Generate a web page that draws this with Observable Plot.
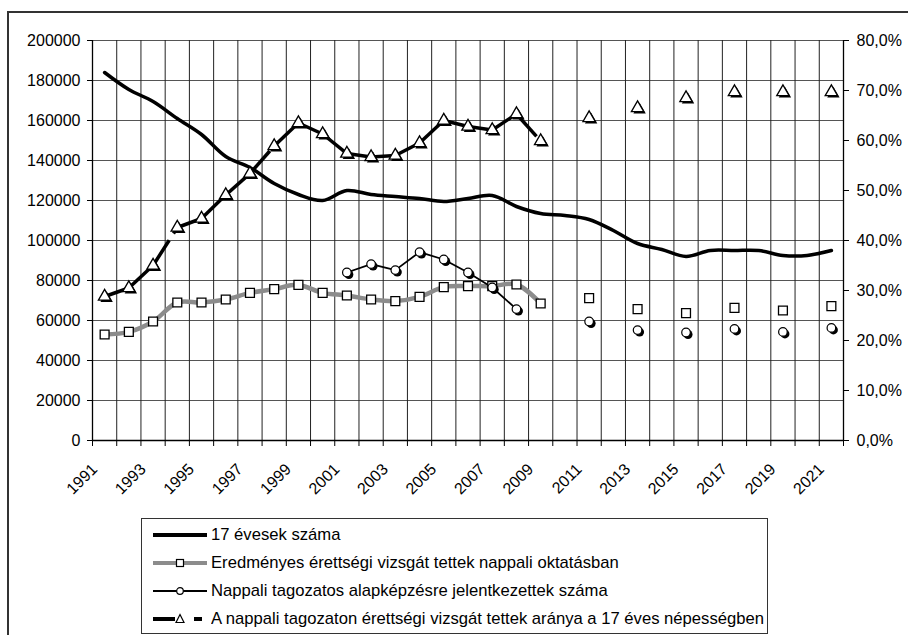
<!DOCTYPE html>
<html>
<head>
<meta charset="utf-8">
<script src="https://cdn.jsdelivr.net/npm/d3@7"></script>
<script src="https://cdn.jsdelivr.net/npm/@observablehq/plot@0.6"></script>
<style>
  body { margin: 0; background: #fff; }
  #wrap { position: relative; width: 908px; height: 635px; overflow: hidden; background: #fff;
          font-family: "Liberation Sans", Arial, sans-serif; }
  #frame { position: absolute; left: 7px; top: 11px; width: 1000px; height: 1000px;
           border-left: 2px solid #333; border-top: 2px solid #333; }
  #chart { position: absolute; left: 0; top: 0; }
  #legend { position: absolute; left: 141px; top: 518px; width: 625px; height: 114px;
            border: 1px solid #333; background: #fff; }
  .row { position: absolute; left: 0; height: 28px; display: flex; align-items: center; white-space: nowrap; }
  .row svg { margin-left: 11px; flex: none; }
  .row span { display: inline-block; margin-left: 2px; font-family: "Liberation Sans Narrow", "Arial Narrow", "Liberation Sans", Arial, sans-serif;
              font-size: 17px; color: #000; transform-origin: left center; }
</style>
</head>
<body>
<div id="wrap">
  <div id="frame"></div>
  <div id="chart"></div>
  <div id="legend"></div>
</div>
<script>
// ---- data ----
const years = [1991,1992,1993,1994,1995,1996,1997,1998,1999,2000,2001,2002,2003,2004,2005,2006,2007,2008,2009,2010,2011,2012,2013,2014,2015,2016,2017,2018,2019,2020,2021];
const yearLabels = [1991,1993,1995,1997,1999,2001,2003,2005,2007,2009,2011,2013,2015,2017,2019,2021];

// 17 évesek száma
const pop17 = [184000,175500,169500,161000,153000,142000,136500,128500,123000,120000,125000,123000,122000,121000,119500,121000,122500,117000,113500,112500,110500,105000,98500,95500,92000,95000,95000,95000,92500,92500,95000];
// Eredményes érettségi vizsgát tettek nappali oktatásban
const eredmenyes = [53000,54300,59500,69000,69000,70500,73800,75700,77800,73800,72500,70500,69700,71800,76700,77200,77200,78000,68500,null,71200,null,65700,null,63700,null,66300,null,65000,null,67200];
// Nappali tagozatos alapképzésre jelentkezettek száma
const jelentkezett = [null,null,null,null,null,null,null,null,null,null,84000,88200,85200,94200,90500,84000,76500,65700,null,null,59500,null,55200,null,54000,null,55800,null,54300,null,56300];
// A nappali tagozaton érettségi vizsgát tettek aránya a 17 éves népességben (%)
const arany = [28.8,30.5,35.0,42.6,44.4,49.1,53.4,58.9,63.5,61.3,57.4,56.7,57.0,59.5,64.0,62.8,62.1,65.3,59.9,null,64.5,null,66.5,null,68.5,null,69.7,null,69.7,null,69.7];

const leftTicks = [0,20000,40000,60000,80000,100000,120000,140000,160000,180000,200000];
const rightTicks = [0,10,20,30,40,50,60,70,80];
const seriesNames = [
  "17 évesek száma",
  "Eredményes érettségi vizsgát tettek nappali oktatásban",
  "Nappali tagozatos alapképzésre jelentkezettek száma",
  "A nappali tagozaton érettségi vizsgát tettek aránya a 17 éves népességben"
];

// ---- derived tables ----
const PCT = 2500; // left-axis units per percent (80% <-> 200000)
const table = years.map((year, i) => ({
  year, pop: pop17[i], ered: eredmenyes[i], jel: jelentkezett[i],
  arany: arany[i] == null ? null : arany[i] * PCT
}));
const boundaries = years.map(y => y - 0.5).concat([years[years.length - 1] + 0.5]);
const xDomain = [boundaries[0], boundaries[boundaries.length - 1]];
const links = [];
for (let i = 0; i + 1 < table.length; i++) {
  if (table[i].arany != null && table[i + 1].arany != null)
    links.push({x1: table[i].year, y1: table[i].arany, x2: table[i + 1].year, y2: table[i + 1].arany});
}
const eredLine = table.filter(d => d.ered != null && d.year <= 2009);
const jelLine = table.filter(d => d.jel != null && d.year <= 2008);

const chart = Plot.plot({
  width: 908,
  height: 515,
  marginLeft: 92,
  marginRight: 65,
  marginTop: 40,
  marginBottom: 75,
  x: {domain: xDomain},
  y: {domain: [0, 200000]},
  style: {fontFamily: '"Liberation Sans", Arial, sans-serif', fontSize: "16px", background: "transparent", color: "#000", overflow: "visible"},
  marks: [
    Plot.ruleY(leftTicks.slice(1), {stroke: "#555", strokeWidth: 1}),
    Plot.ruleX(boundaries, {stroke: "#222", strokeWidth: 1}),
    Plot.ruleX(xDomain, {stroke: "#000", strokeWidth: 1.3}),
    Plot.ruleY([0], {stroke: "#000", strokeWidth: 1.3}),
    Plot.axisY({anchor: "left", ticks: leftTicks, tickSize: 5, tickPadding: 7, tickFormat: d => String(d), label: null}),
    Plot.axisY({anchor: "right", ticks: rightTicks.map(p => p * PCT), tickSize: 5, tickPadding: 8,
      tickFormat: d => (d / PCT).toFixed(1).replace(".", ",") + "%", label: null}),
    Plot.axisX({anchor: "bottom", ticks: boundaries, tickSize: 6, tickFormat: () => "", label: null}),
    Plot.text(yearLabels, {x: d => d, frameAnchor: "bottom", text: d => String(d), rotate: -45,
      textAnchor: "end", lineAnchor: "middle", dx: -10, dy: 26, fontSize: 16, fill: "#000"}),
    // lines
    Plot.line(eredLine, {x: "year", y: "ered", stroke: "#8c8c8c", strokeWidth: 4.5, curve: "catmull-rom"}),
    Plot.line(table, {x: "year", y: "pop", stroke: "#000", strokeWidth: 3.5, curve: "catmull-rom"}),
    Plot.line(jelLine, {x: "year", y: "jel", stroke: "#000", strokeWidth: 1.8}),
    Plot.link(links, {x1: "x1", y1: "y1", x2: "x2", y2: "y2", stroke: "#000", strokeWidth: 3.5,
      strokeDasharray: "30,8", strokeLinecap: "butt"}),
    // markers
    Plot.dot(table, {x: "year", y: "ered", symbol: "square", r: 5, fill: "#fff", stroke: "#000", strokeWidth: 1.3}),
    Plot.dot(table, {x: "year", y: "jel", r: 4.5, fill: "#000", dx: 2, dy: 2}),
    Plot.dot(table, {x: "year", y: "jel", r: 4.3, fill: "#fff", stroke: "#000", strokeWidth: 1.2}),
    Plot.dot(table, {x: "year", y: "arany", symbol: "triangle", r: 4.6, fill: "#000", dx: 2, dy: 2}),
    Plot.dot(table, {x: "year", y: "arany", symbol: "triangle", r: 4.6, fill: "#fff", stroke: "#000", strokeWidth: 1.3})
  ]
});
document.getElementById("chart").appendChild(chart);

// ---- legend ----
const samples = [
  '<line x1="0" y1="8" x2="54" y2="8" stroke="#000" stroke-width="4"/>',
  '<line x1="0" y1="8" x2="54" y2="8" stroke="#8c8c8c" stroke-width="4"/><rect x="23.5" y="4.5" width="7" height="7" fill="#fff" stroke="#000" stroke-width="1.2"/>',
  '<line x1="0" y1="8" x2="54" y2="8" stroke="#000" stroke-width="2"/><circle cx="27" cy="8" r="3.3" fill="#fff" stroke="#000" stroke-width="1.2"/>',
  '<line x1="0" y1="8" x2="22" y2="8" stroke="#000" stroke-width="4"/><line x1="41" y1="8" x2="49" y2="8" stroke="#000" stroke-width="4"/><path d="M27,3.5 L31,11.5 L23,11.5 Z" fill="#fff" stroke="#000" stroke-width="1.2"/>'
];
const legend = document.getElementById("legend");
const spans = [];
seriesNames.forEach((name, i) => {
  const row = document.createElement("div");
  row.className = "row";
  row.style.top = (i * 28 + 2) + "px";
  row.innerHTML = '<svg width="56" height="16" viewBox="0 0 56 16">' + samples[i] + '</svg>';
  const span = document.createElement("span");
  span.textContent = name;
  row.appendChild(span);
  legend.appendChild(row);
  spans.push(span);
});
const w = spans[3].getBoundingClientRect().width;
const target = 553;
if (w > 0) spans.forEach(s => { s.style.transform = "scaleX(" + (target / w) + ")"; });
</script>
</body>
</html>
